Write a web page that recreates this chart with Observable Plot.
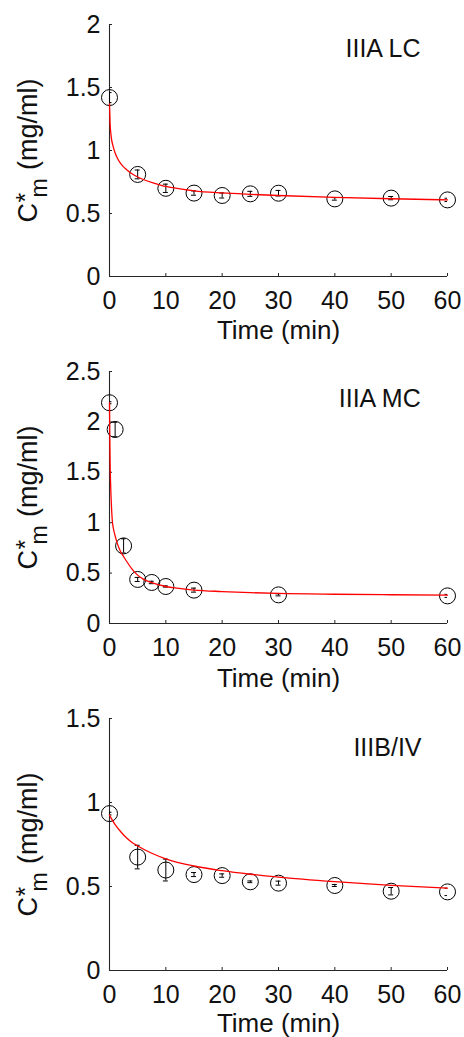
<!DOCTYPE html>
<html>
<head>
<meta charset="utf-8">
<script src="https://cdn.jsdelivr.net/npm/d3@7"></script>
<script src="https://cdn.jsdelivr.net/npm/@observablehq/plot@0.6"></script>
<style>
html, body { margin: 0; padding: 0; background: #fff; overflow: hidden; }
#chart svg { display: block; }
</style>
</head>
<body>
<div id="chart"></div>
<script>
// ---------- data ----------
const xTicks = [0, 10, 20, 30, 40, 50, 60];

// Panel 1: IIIA LC
const lcLabel = "IIIA LC";
const lcYTicks = [0, 0.5, 1, 1.5, 2];
const lcTime = [0, 5, 10, 15, 20, 25, 30, 40, 50, 60];
const lcMean = [1.42, 0.81, 0.70, 0.662, 0.643, 0.656, 0.661, 0.616, 0.622, 0.608];
const lcErr  = [0.04, 0.035, 0.033, 0.017, 0.02, 0.02, 0.022, 0.01, 0.013, 0.013];
const lcFitTime  = [0, 0.1, 0.3, 0.6, 1, 1.5, 2, 2.5, 3, 4, 5, 6, 8, 10, 12, 15, 20, 25, 30, 40, 50, 60];
const lcFitValue = [1.37, 1.22, 1.11, 1.04, 0.98, 0.93, 0.895, 0.87, 0.85, 0.815, 0.79, 0.77, 0.74, 0.715, 0.70, 0.68, 0.663, 0.652, 0.643, 0.628, 0.617, 0.608];

// Panel 2: IIIA MC
const mcLabel = "IIIA MC";
const mcYTicks = [0, 0.5, 1, 1.5, 2, 2.5];
const mcTime = [0, 1, 2.5, 5, 7.5, 10, 15, 30, 60];
const mcMean = [2.19, 1.925, 0.77, 0.437, 0.407, 0.367, 0.331, 0.284, 0.274];
const mcErr  = [0.01, 0.072, 0.07, 0.02, 0.012, 0.006, 0.02, 0.01, 0.015];
const mcFitTime  = [0, 0.05, 0.1, 0.2, 0.35, 0.5, 0.7, 1, 1.5, 2, 2.5, 3, 4, 5, 6, 7.5, 10, 12, 15, 20, 25, 30, 40, 50, 60];
const mcFitValue = [2.19, 1.85, 1.62, 1.38, 1.16, 1.02, 0.94, 0.87, 0.775, 0.71, 0.665, 0.62, 0.54, 0.48, 0.44, 0.405, 0.367, 0.35, 0.332, 0.317, 0.306, 0.298, 0.29, 0.285, 0.281];

// Panel 3: IIIB/IV
const ivLabel = "IIIB/IV";
const ivYTicks = [0, 0.5, 1, 1.5];
const ivTime = [0, 5, 10, 15, 20, 25, 30, 40, 50, 60];
const ivMean = [0.934, 0.675, 0.598, 0.571, 0.565, 0.528, 0.520, 0.506, 0.472, 0.468];
const ivErr  = [0.008, 0.07, 0.065, 0.012, 0.01, 0.005, 0.012, 0.006, 0.022, 0.022];
const ivFitTime  = [0, 0.5, 1, 2, 3, 4, 5, 7.5, 10, 15, 20, 25, 30, 40, 50, 60];
const ivFitValue = [0.925, 0.895, 0.869, 0.826, 0.79, 0.762, 0.741, 0.698, 0.665, 0.622, 0.594, 0.573, 0.556, 0.529, 0.507, 0.49];

// ---------- drawing ----------
const FONT = "'Liberation Sans', Arial, Helvetica, sans-serif";
const AXIS = "#262626";
const TXT = "#111";

const panelDefs = [
  {label: lcLabel, yTicks: lcYTicks, time: lcTime, mean: lcMean, err: lcErr, fitT: lcFitTime, fitV: lcFitValue, ax: 41.9, ay: 1.746, h: 347, xl: 62},
  {label: mcLabel, yTicks: mcYTicks, time: mcTime, mean: mcMean, err: mcErr, fitT: mcFitTime, fitV: mcFitValue, ax: 40.7, ay: 2.143, h: 347, xl: 63},
  {label: ivLabel, yTicks: ivYTicks, time: ivTime, mean: ivMean, err: ivErr, fitT: ivFitTime, fitV: ivFitValue, ax: 43.3, ay: 1.276, h: 343, xl: 61}
];

const chart = document.getElementById("chart");

for (const p of panelDefs) {
  const pts = p.time.map((t, i) => ({t, m: p.mean[i], e: p.err[i]}));
  const fit = p.fitT.map((t, i) => ({t, v: p.fitV[i]}));
  const ymax = p.yTicks[p.yTicks.length - 1];
  const svg = Plot.plot({
    width: 464,
    height: p.h,
    marginLeft: 109,
    marginRight: 17,
    marginTop: 24,
    marginBottom: p.h - 24 - 252,
    style: {fontFamily: FONT, background: "#fff", overflow: "visible"},
    x: {domain: [0, 60]},
    y: {domain: [0, ymax]},
    marks: [
      Plot.ruleY([0], {stroke: AXIS, strokeWidth: 1.1}),
      Plot.ruleX([0], {stroke: AXIS, strokeWidth: 1.1}),
      Plot.axisX({ticks: xTicks, tickSize: -3, tickPadding: 18, tickFormat: d => String(d),
                  fontSize: 25, label: null, stroke: AXIS, fill: TXT}),
      Plot.axisY({ticks: p.yTicks, tickSize: -3, tickPadding: 12, tickFormat: d => String(d),
                  fontSize: 25, label: null, stroke: AXIS, fill: TXT}),
      // y-axis label: C*m (mg/ml) with stacked super/subscript
      Plot.text(["C"], {frameAnchor: "left", rotate: -90, textAnchor: "start", lineAnchor: "bottom",
                        dx: -73, dy: 72, fontSize: 27, fill: TXT}),
      Plot.text(["*"], {frameAnchor: "left", rotate: -90, textAnchor: "start", lineAnchor: "bottom",
                        dx: -76, dy: 52, fontSize: 25, fill: TXT}),
      Plot.text(["m"], {frameAnchor: "left", rotate: -90, textAnchor: "start", lineAnchor: "bottom",
                        dx: -63, dy: 47, fontSize: 23, fill: TXT}),
      Plot.text(["(mg/ml)"], {frameAnchor: "left", rotate: -90, textAnchor: "start", lineAnchor: "bottom",
                        dx: -73, dy: 19.5, fontSize: 27, fill: TXT}),
      // x-axis label
      Plot.text(["Time (min)"], {frameAnchor: "bottom", lineAnchor: "bottom", dy: p.xl, fontSize: 26, fill: TXT}),
      // error bars
      Plot.ruleX(pts, {x: "t", y1: d => d.m - d.e, y2: d => d.m + d.e, stroke: "#000", strokeWidth: 1, clip: true}),
      Plot.ruleY(pts, {y: d => d.m - d.e, x1: "t", x2: "t", insetLeft: -2.5, insetRight: -2.5, stroke: "#000", strokeWidth: 1, clip: true}),
      Plot.ruleY(pts, {y: d => d.m + d.e, x1: "t", x2: "t", insetLeft: -2.5, insetRight: -2.5, stroke: "#000", strokeWidth: 1, clip: true}),
      // markers
      Plot.dot(pts, {x: "t", y: "m", r: 8, stroke: "#000", fill: "none", strokeWidth: 1}),
      // fitted curve
      Plot.line(fit, {x: "t", y: "v", stroke: "#ff0000", strokeWidth: 1.3, curve: "monotone-x"}),
      // panel annotation
      Plot.text([p.label], {x: p.ax, y: p.ay, textAnchor: "start", lineAnchor: "bottom", fontSize: 25, fill: TXT})
    ]
  });
  chart.appendChild(svg);
}
</script>
</body>
</html>
